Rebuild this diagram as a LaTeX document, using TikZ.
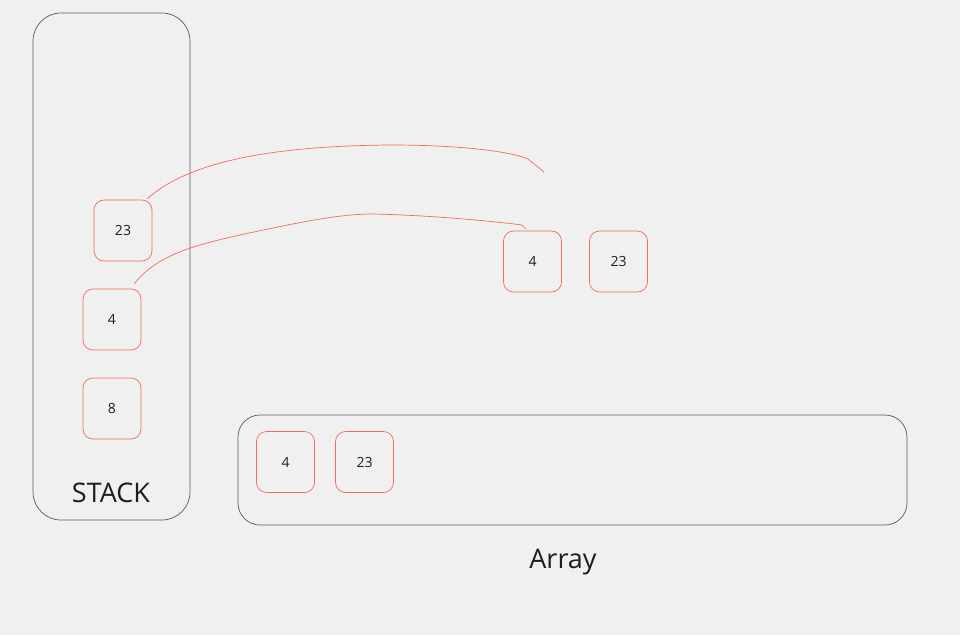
\documentclass[tikz,border=0pt]{standalone}
\usepackage{fontspec}
\setmainfont{Open Sans}
\definecolor{bg}{HTML}{F0F0F0}
\definecolor{redline}{HTML}{F26B5B}
\definecolor{frame}{HTML}{5A5A5A}
\definecolor{txt}{HTML}{1E1E1E}
\begin{document}
\begin{tikzpicture}[x=1pt,y=-1pt,
  cell/.style={draw=redline,line width=0.7pt,rounded corners=10pt,minimum width=58pt,minimum height=61pt,inner sep=0pt,font=\fontsize{14}{16}\selectfont,text=txt},
  container/.style={draw=frame,line width=0.7pt},
  biglabel/.style={font=\fontsize{27}{32}\selectfont,text=txt,inner sep=0pt},
  link/.style={draw=redline,line width=0.7pt}]
\fill[bg] (0,0) rectangle (960,635);
\useasboundingbox (0,0) rectangle (960,635);
% containers
\draw[container,rounded corners=28pt] (33,13) rectangle (190,520);
\draw[container,rounded corners=22pt] (238,415) rectangle (907,525);
\node[biglabel] (stacklbl) at (111,493) {STACK};
\node[biglabel] (arraylbl) at (563,562) {Array};
% stack cells
\node[cell] (s23) at (123,230.5) {23};
\node[cell] (s4) at (112,319.5) {4};
\node[cell] (s8) at (112,408.5) {8};
% heap cells
\node[cell] (h4) at (532.5,261.5) {4};
\node[cell] (h23) at (618.5,261.5) {23};
% array cells
\node[cell] (a4) at (285.5,462) {4};
\node[cell] (a23) at (364.5,462) {23};
% links
\coordinate (e1) at (544,172);
\coordinate (e2) at (526,229);
\path[link] ([xshift=-5pt,yshift=1pt]s23.north east) .. controls (185,165) and (260,146) .. (390,145)
  .. controls (470,145) and (515,153) .. (528,159) -- (e1);
\path[link] ([xshift=-7pt,yshift=5pt]s4.north east) .. controls (155,258) and (185,247) .. (240,235)
  .. controls (300,222) and (340,214) .. (372,214) .. controls (430,215) and (500,222) .. (522,225) -- (e2);
\end{tikzpicture}
\end{document}
